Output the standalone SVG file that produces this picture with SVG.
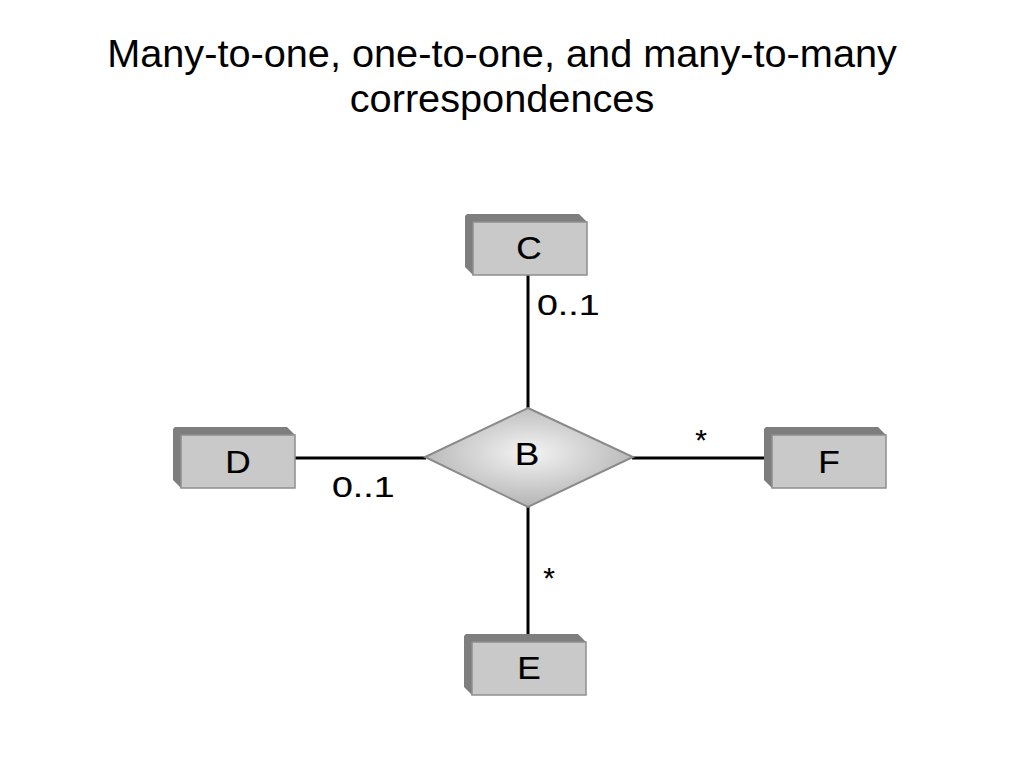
<svg xmlns="http://www.w3.org/2000/svg" xmlns:xlink="http://www.w3.org/1999/xlink" width="1024" height="768" viewBox="0 0 1024 768">
<style>
.title{font-family:"Liberation Sans",Arial,sans-serif;font-size:39.7px;fill:#000;text-anchor:middle}
.lbl{font-family:"Liberation Sans",Arial,sans-serif;font-size:30px;fill:#000;stroke:#000;stroke-width:0.15}
.box-txt{font-family:"Liberation Sans",Arial,sans-serif;font-size:32px;fill:#000;stroke:#000;stroke-width:0.2;text-anchor:middle}
.conn{stroke:#000;stroke-width:3;fill:none}
</style>
<defs>
<g id="box">
<polygon points="-8,-6 -6,-8 106,-8 114,0 0,0 0,53 -8,45" fill="#7e7e7e"/>
<rect x="0" y="0" width="114" height="53" fill="#c9c9c9" stroke="#8e8e8e" stroke-width="1.5"/>
</g>
<radialGradient id="dg" cx="0.5" cy="0.45" r="0.55">
<stop offset="0" stop-color="#f4f4f4"/>
<stop offset="1" stop-color="#b4b4b4"/>
</radialGradient>
</defs>
<rect width="1024" height="768" fill="#fff"/>
<text class="title" x="502" y="67">Many-to-one, one-to-one, and many-to-many</text>
<text class="title" x="502" y="112">correspondences</text>
<g id="connectors">
<line class="conn" x1="528" y1="275" x2="528" y2="409"/>
<line class="conn" x1="528" y1="506" x2="528" y2="642"/>
<line class="conn" x1="295" y1="458" x2="426" y2="458"/>
<line class="conn" x1="632" y1="458" x2="772" y2="458"/>
<text class="lbl" transform="translate(537,315) scale(1.25,1)">0..1</text>
<text class="lbl" transform="translate(332,497) scale(1.25,1)">0..1</text>
<text class="lbl" text-anchor="middle" x="701" y="450" font-size="32">*</text>
<text class="lbl" text-anchor="middle" x="549" y="588" font-size="32">*</text>
</g>
<g id="node-B">
<polygon points="528,408 633,457 528,507 425,457" fill="url(#dg)" stroke="#8a8a8a" stroke-width="2"/>
<text class="box-txt" transform="translate(527,465) scale(1.15,1)" font-size="28">B</text>
</g>
<g id="node-C">
<use xlink:href="#box" x="473" y="222"/>
<text class="box-txt" transform="translate(529,259) scale(1.1,1)">C</text>
</g>
<g id="node-D">
<use xlink:href="#box" x="181" y="435"/>
<text class="box-txt" transform="translate(238,473) scale(1.1,1)">D</text>
</g>
<g id="node-F">
<use xlink:href="#box" x="772" y="435"/>
<text class="box-txt" transform="translate(829,473) scale(1.1,1)">F</text>
</g>
<g id="node-E">
<use xlink:href="#box" x="472" y="642"/>
<text class="box-txt" transform="translate(529,679) scale(1.1,1)">E</text>
</g>
</svg>
